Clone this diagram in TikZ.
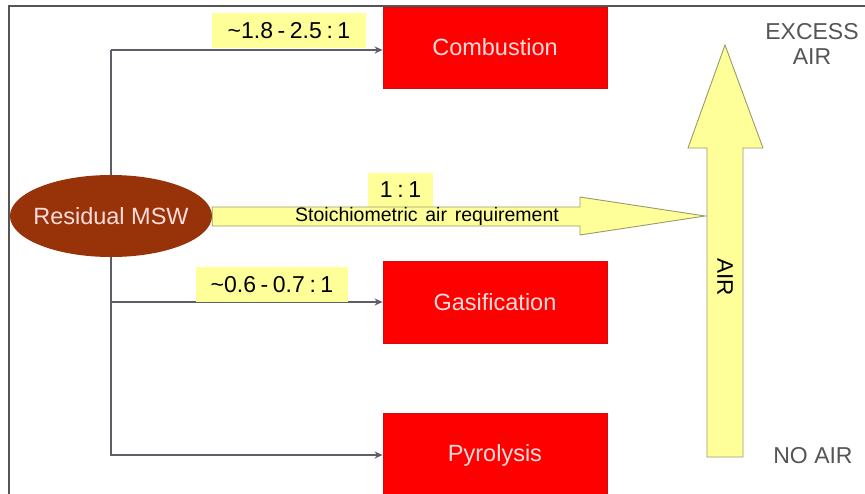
\documentclass[tikz,border=0pt]{standalone}
\usepackage{fontspec}
\setmainfont{Liberation Sans}
\usetikzlibrary{shapes.geometric,arrows.meta}
\definecolor{boxred}{HTML}{FF0000}
\definecolor{boxredline}{HTML}{C81010}
\definecolor{pale}{HTML}{FFFF99}
\definecolor{paleline}{HTML}{9A9A6A}
\definecolor{msw}{HTML}{983208}
\definecolor{lineg}{HTML}{5E5E66}
\definecolor{txtg}{HTML}{555555}
\definecolor{pinktxt}{HTML}{FFDCDC}
\newcommand{\rs}{\hspace{0.2em}}
\tikzset{
  redbox/.style={draw=boxredline, line width=0.8pt, fill=boxred, minimum width=224pt, minimum height=81pt, inner sep=0pt, text=pinktxt, font=\fontsize{23.5}{26}\selectfont},
  ratiolab/.style={fill=pale, inner sep=0pt, font=\fontsize{23}{26}\selectfont},
  conn/.style={draw=lineg, line width=2.6pt, -{Stealth[length=8pt,width=7pt]}},
  plain/.style={draw=lineg, line width=2.6pt},
  yellowarrow/.style={draw=paleline, line width=0.9pt, fill=pale},
  sidetxt/.style={text=txtg, font=\fontsize{23}{25.5}\selectfont, align=center},
}
\begin{document}
\begin{tikzpicture}[x=1pt,y=-1pt]
\useasboundingbox (0,0) rectangle (865,493);
\fill[white] (0,0) rectangle (865,493);
% frame
\draw[draw=txtg, line width=1.5pt] (9,500) -- (9,6) -- (870,6);

% boxes
\node[redbox] (comb) at (495,47.5) {Combustion};
\node[redbox, minimum height=82pt] (gas) at (495,302) {Gasification};
\node[redbox, minimum height=84pt] (pyr) at (495,455) {Pyrolysis};

% vertical trunk and branches
\coordinate (trunktop) at (111,50);
\draw[conn] (trunktop) -- ([yshift=-2.5pt]comb.west);
\draw[plain] (111,216) -- (trunktop);
\draw[conn] (111,216) |- (gas.west);
\draw[conn] (111,216) |- (pyr.west);

% ellipse
\node[ellipse, fill=msw, minimum width=202pt, minimum height=82pt, inner sep=0pt,
      label={[text=pinktxt, font=\fontsize{23.5}{26}\selectfont, inner sep=0pt]center:Residual MSW}] (src) at (111,216) {};

% ratio labels
\node[ratiolab, minimum width=154pt, minimum height=35pt] (lab1) at (289,30.5) {\char`\~1.8\rs-\rs2.5\rs:\rs1};
\node[ratiolab, minimum width=65pt, minimum height=34pt] (lab2) at (400.5,190) {1\rs:\rs1};
\node[ratiolab, minimum width=152pt, minimum height=35pt] (lab3) at (272,284.5) {\char`\~0.6\rs-\rs0.7\rs:\rs1};

% big vertical AIR arrow
\draw[yellowarrow] (707,457) -- (707,148) -- (688,148) -- (725,45) -- (763,148) -- (743,148) -- (743,457) -- cycle;
\coordinate (airtip) at (705,216);
\node[rotate=-90, font=\fontsize{22.5}{24}\selectfont] (airlab) at (725,277) {AIR};

% stoichiometric arrow
\draw[yellowarrow] (src.east |- 0,207) -- (580,207) -- (580,197) -- (airtip) -- (580,235) -- (580,226) -- (src.east |- 0,226) -- cycle;
\node[font=\fontsize{19.5}{22}\selectfont, inner sep=0pt] (stoich) at (427,216.5) {Stoichiometric\hspace{0.12em} air\hspace{0.12em} requirement};

% side labels
\node[sidetxt] (excess) at (812,44) {EXCESS\\AIR};
\node[sidetxt] (noair) at (813,456) {NO AIR};
\end{tikzpicture}
\end{document}
